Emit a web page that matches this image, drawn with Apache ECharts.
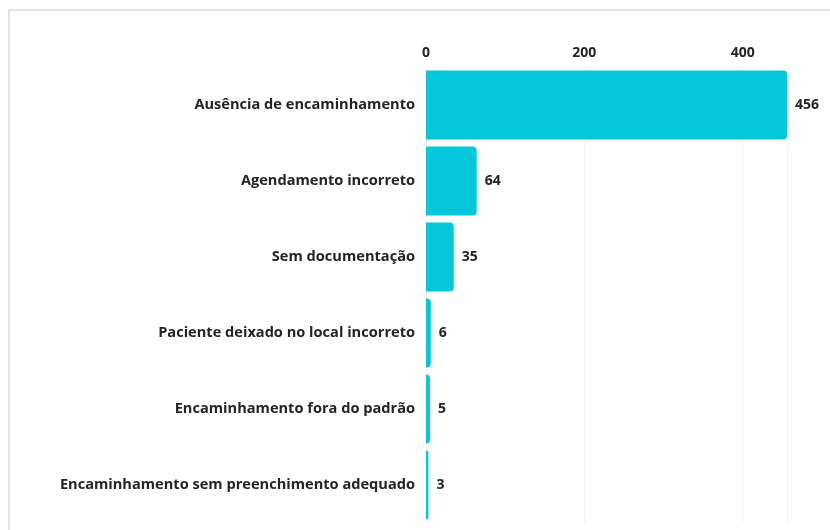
<!DOCTYPE html>
<html>
<head>
<meta charset="utf-8">
<script src="https://cdn.jsdelivr.net/npm/echarts@6/dist/echarts.min.js"></script>
<style>html,body{margin:0;padding:0;background:#fff;}#c{width:830px;height:530px;}</style>
</head>
<body>
<div id="c"></div>
<script>
const categories = [
  "Ausência de encaminhamento",
  "Agendamento incorreto",
  "Sem documentação",
  "Paciente deixado no local incorreto",
  "Encaminhamento fora do padrão",
  "Encaminhamento sem preenchimento adequado"
];
const values = [456, 64, 35, 6, 5, 3];
const xTicks = [0, 200, 400];

const chart = echarts.init(document.getElementById('c'), null, {renderer: 'canvas'});
const fontFam = '"Open Sans", "Noto Sans", sans-serif';
chart.setOption({
  animation: false,
  graphic: [
    {type: 'line', shape: {x1: 8, y1: 10, x2: 830, y2: 10}, style: {stroke: '#e4e4e4', lineWidth: 2}},
    {type: 'line', shape: {x1: 9, y1: 10, x2: 9, y2: 530}, style: {stroke: '#e4e4e4', lineWidth: 2}}
  ],
  grid: {left: 426, right: 43, top: 67, bottom: 7, containLabel: false},
  xAxis: {
    type: 'value',
    position: 'top',
    min: xTicks[0],
    max: Math.max(...values),
    interval: xTicks[1] - xTicks[0],
    axisLine: {show: false},
    axisTick: {show: false},
    axisLabel: {
      showMaxLabel: false,
      color: '#252423', fontWeight: 'bold', fontSize: 14, fontFamily: fontFam, margin: 7
    },
    splitLine: {lineStyle: {color: '#f3f3f3', width: 1}}
  },
  yAxis: {
    type: 'category',
    inverse: true,
    data: categories,
    axisLine: {show: false},
    axisTick: {show: false},
    axisLabel: {color: '#252423', fontWeight: 'bold', fontSize: 14.6, fontFamily: fontFam, margin: 11}
  },
  series: [{
    type: 'bar',
    data: values,
    barCategoryGap: '9%',
    itemStyle: {color: '#06c6da', borderRadius: [0, 4, 4, 0]},
    label: {
      show: true, position: 'right', distance: 8,
      color: '#252423', fontWeight: 'bold', fontSize: 14, fontFamily: fontFam
    }
  }]
});
</script>
</body>
</html>
